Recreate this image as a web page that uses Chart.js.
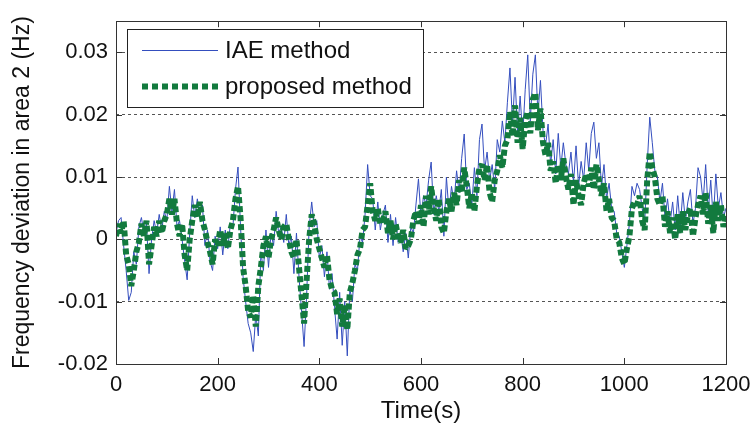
<!DOCTYPE html>
<html>
<head>
<meta charset="utf-8">
<script src="https://cdn.jsdelivr.net/npm/chart.js@4"></script>
<style>
  body { margin: 0; background: #fff; }
  canvas { display: block; }
</style>
</head>
<body>
<canvas id="freqChart" width="754" height="434"></canvas>
<script>
// sample spacing of both traces (s)
const sampleStep = 5;

// frequency deviation in area 2, in mHz, one value every 5 s from 0 to 1200 s
const iaeValues = [
  1.0, 3.0, 3.5, -1.0, -5.0, -9.8, -8.5, -2.0, -4.0, 2.0, 3.5, 1.0, 2.5, -5.5, 0.0, 3.0, 1.0, 4.0, 1.5, 4.5,
  3.0, 8.5, 4.5, 8.0, 2.0, 3.0, 0.0, -3.5, -6.5, 1.0, 7.0, 3.5, 6.5, 4.0, 5.5, -1.0, 1.5, -3.5, -5.0, 0.5,
  -1.5, 2.0, -2.5, 1.5, -1.5, 2.5, 2.0, 8.0, 11.6, 2.0, -6.0, -10.0, -13.5, -15.0, -18.0, -12.0, -15.5, -2.0, -5.0, 1.5,
  -4.5, 1.0, -1.0, 4.5, 1.0, 2.0, -0.5, 4.0, -1.0, 0.5, -5.5, 1.0, -6.0, -11.5, -17.2, -9.0, 2.0, 6.0, 2.0, 3.0,
  -3.0, -1.0, -6.0, -2.0, -8.0, -5.5, -11.0, -16.0, -8.5, -17.0, -10.0, -18.7, -8.0, -10.0, -4.0, -5.0, 0.5, -0.5, 4.0, 12.0,
  7.0, 6.5, 1.5, 6.0, 1.5, 4.0, 5.5, -0.5, 4.0, -1.0, 3.5, -0.5, 1.0, -2.0, 1.0, -3.0, 2.0, 1.0, 5.5, 9.7,
  3.5, 7.0, 5.5, 9.5, 12.4, 4.0, 7.0, 4.5, 8.0, 0.5, 10.0, 4.5, 8.5, 6.0, 11.0, 7.5, 13.0, 16.9, 8.0, 9.0,
  5.5, 11.5, 7.0, 16.0, 18.5, 11.0, 14.0, 9.5, 12.0, 8.0, 16.0, 14.0, 19.0, 15.5, 22.0, 27.5, 18.5, 26.0, 17.0, 23.0,
  16.5, 24.0, 29.6, 19.0, 26.5, 29.6, 20.0, 25.5, 17.5, 15.0, 18.5, 12.0, 16.0, 10.5, 17.0, 11.5, 15.5, 12.0, 10.5, 14.0,
  9.0, 15.0, 8.5, 12.5, 9.5, 15.5, 11.0, 17.0, 18.8, 13.0, 15.5, 8.5, 12.0, 6.5, 9.0, 5.0, 4.5, 1.0, 0.5, -2.0,
  -4.5, -1.0, 2.5, 8.5, 7.0, 9.0, 8.0, 5.0, 2.5, 12.0, 19.6, 15.5, 11.0, 10.0, 6.0, 9.0, 3.5, 6.5, 2.5, 6.0,
  1.5, 7.0, 2.0, 7.5, 3.0, 6.0, 8.0, 2.5, 5.0, 11.5, 10.0, 6.0, 12.0, 4.5, 9.5, 3.0, 10.5, 5.0, 7.5, 3.5,
  5.0
];

const proposedValues = [
  0.5, 2.5, 1.0, 3.0, -2.5, -4.0, -7.5, -5.0, -2.0, -0.5, 2.5, 0.5, 3.0, -4.0, -1.0, 2.0, 0.5, 3.0, 1.0, 3.0,
  4.0, 6.5, 4.0, 6.5, 2.5, 0.5, 2.5, -2.5, -5.0, 0.0, 3.0, 5.5, 3.5, 6.0, 3.0, 1.5, -0.5, -2.0, -4.0, 0.0,
  -1.0, 1.5, -1.0, 1.0, -1.5, 1.5, 3.0, 6.5, 8.5, 3.5, -4.5, -7.5, -11.5, -12.5, -9.0, -14.0, -7.5, -4.5, -1.0, 0.5,
  -3.0, 0.0, 1.5, 3.5, 1.5, 0.0, 2.0, 2.5, 0.0, -2.0, -3.0, 0.0, -4.5, -9.0, -13.5, -6.5, 0.0, 4.0, 2.5, 0.0,
  -1.5, -3.0, -4.5, -2.5, -6.5, -8.0, -8.5, -12.0, -9.5, -14.0, -10.5, -14.5, -8.5, -7.0, -5.0, -2.5, -1.5, 1.5, 2.0, 5.5,
  9.0, 4.5, 3.0, 5.0, 2.5, 3.0, 4.5, 1.0, 3.0, 0.0, 2.5, 0.5, -0.5, 1.5, -1.5, -1.0, 0.0, 3.0, 4.5, 2.5,
  5.5, 2.0, 7.0, 4.0, 8.5, 5.0, 3.0, 6.5, 2.0, 1.0, 4.5, 6.5, 4.5, 7.5, 5.5, 9.5, 7.5, 11.5, 8.5, 5.0,
  7.5, 4.5, 8.5, 11.5, 12.0, 9.5, 12.0, 7.5, 6.0, 9.5, 11.0, 13.5, 11.5, 15.0, 16.0, 20.5, 16.5, 21.5, 15.5, 19.5,
  14.5, 19.0, 20.5, 17.0, 22.5, 23.5, 17.5, 21.0, 15.5, 13.5, 15.5, 11.0, 12.5, 9.0, 12.0, 9.5, 13.0, 10.0, 8.0, 10.5,
  5.5, 9.5, 7.0, 5.5, 9.0, 10.5, 8.5, 11.5, 8.0, 12.0, 9.5, 7.0, 9.0, 4.5, 6.5, 3.5, 3.0, 0.0, -0.5, -3.0,
  -4.0, -1.5, 0.5, 5.0, 6.0, 5.5, 7.0, 3.0, 1.5, 9.5, 14.0, 11.5, 10.0, 6.5, 5.5, 7.0, 2.0, 4.5, 1.0, 3.5,
  0.0, 4.0, 1.0, 4.5, 1.5, 4.0, 5.0, 0.5, 3.5, 5.5, 7.0, 4.0, 7.5, 2.5, 5.5, 1.0, 6.0, 3.0, 5.5, 2.0,
  4.0
];

const seriesNames = ["IAE method", "proposed method"];
const xTicks = [0, 200, 400, 600, 800, 1000, 1200];
const yTicks = [-0.02, -0.01, 0, 0.01, 0.02, 0.03];

const FONT = "'Liberation Sans', Arial, sans-serif";
const IAE_COLOR = "rgb(52, 78, 190)";
const PROP_COLOR = "rgb(18, 122, 62)";

function toPoints(values) {
  return values.map((v, i) => ({ x: i * sampleStep, y: v / 1000 }));
}

// box, inner tick marks and the legend, drawn the way the figure has them
const framePlugin = {
  id: "frame",
  afterDraw(chart) {
    const ctx = chart.ctx;
    const area = chart.chartArea;
    const xs = chart.scales.x;
    const ys = chart.scales.y;
    ctx.save();
    ctx.strokeStyle = "#333";
    ctx.lineWidth = 1;
    ctx.setLineDash([]);
    ctx.beginPath();
    xTicks.forEach(t => {
      const px = Math.round(xs.getPixelForValue(t)) + 0.5;
      ctx.moveTo(px, area.bottom); ctx.lineTo(px, area.bottom - 6);
      ctx.moveTo(px, area.top); ctx.lineTo(px, area.top + 6);
    });
    yTicks.forEach(t => {
      const py = Math.round(ys.getPixelForValue(t)) + 0.5;
      ctx.moveTo(area.left, py); ctx.lineTo(area.left + 6, py);
      ctx.moveTo(area.right, py); ctx.lineTo(area.right - 6, py);
    });
    ctx.stroke();
    ctx.strokeRect(Math.round(area.left) + 0.5, Math.round(area.top) + 0.5,
      Math.round(area.right - area.left), Math.round(area.bottom - area.top));

    // legend
    const lx = 127, ly = 29, lw = 296, lh = 78;
    ctx.fillStyle = "#fff";
    ctx.fillRect(lx, ly, lw, lh);
    ctx.strokeStyle = "#222";
    ctx.strokeRect(lx + 0.5, ly + 0.5, lw, lh);
    const rows = [
      { y: 50, color: IAE_COLOR, width: 1, dash: [] },
      { y: 86, color: PROP_COLOR, width: 6, dash: [6, 4] }
    ];
    ctx.font = "24px " + FONT;
    ctx.textBaseline = "middle";
    rows.forEach((r, i) => {
      ctx.strokeStyle = r.color;
      ctx.lineWidth = r.width;
      ctx.setLineDash(r.dash);
      ctx.beginPath();
      ctx.moveTo(142, r.y + 0.5);
      ctx.lineTo(218, r.y + 0.5);
      ctx.stroke();
      ctx.fillStyle = "#111";
      ctx.fillText(seriesNames[i], 225, r.y + 1);
    });
    ctx.restore();
  }
};

new Chart(document.getElementById("freqChart"), {
  type: "line",
  data: {
    datasets: [
      {
        label: seriesNames[0],
        data: toPoints(iaeValues),
        borderColor: IAE_COLOR,
        borderWidth: 1,
        pointRadius: 0,
        tension: 0,
        order: 1
      },
      {
        label: seriesNames[1],
        data: toPoints(proposedValues),
        borderColor: PROP_COLOR,
        borderWidth: 6,
        borderDash: [6, 3],
        borderJoinStyle: "bevel",
        borderCapStyle: "butt",
        pointRadius: 0,
        tension: 0,
        order: 0
      }
    ]
  },
  options: {
    responsive: false,
    animation: false,
    devicePixelRatio: 1,
    layout: { padding: { top: 18, right: 28, left: 0, bottom: 0 } },
    plugins: { legend: { display: false }, tooltip: { enabled: false } },
    scales: {
      x: {
        type: "linear",
        min: 0,
        max: 1200,
        afterFit: s => { s.height = 70; s.paddingLeft = 0; s.paddingRight = 0; },
        afterBuildTicks: s => { s.ticks = xTicks.map(v => ({ value: v })); },
        grid: { display: false, drawTicks: false },
        border: { display: false },
        ticks: {
          color: "#111",
          padding: 8,
          maxRotation: 0,
          font: { family: FONT, size: 22 },
          callback: v => String(v)
        },
        title: { display: true, text: "Time(s)", color: "#111", padding: { top: 0, bottom: 8 }, font: { family: FONT, size: 24 } }
      },
      y: {
        type: "linear",
        min: -0.02,
        max: 0.035,
        afterFit: s => { s.width = 116; },
        afterBuildTicks: s => { s.ticks = yTicks.map(v => ({ value: v })); },
        grid: {
          color: "#555",
          lineWidth: 1,
          drawTicks: false
        },
        border: { display: false, dash: [3, 3] },
        ticks: {
          color: "#111",
          padding: 8,
          font: { family: FONT, size: 22 },
          callback: v => String(parseFloat(v.toFixed(3)))
        },
        title: { display: true, text: "Frequency deviation in area 2 (Hz)", color: "#111", padding: { top: 9, bottom: 0 }, font: { family: FONT, size: 23 } }
      }
    }
  },
  plugins: [framePlugin]
});
</script>
</body>
</html>
